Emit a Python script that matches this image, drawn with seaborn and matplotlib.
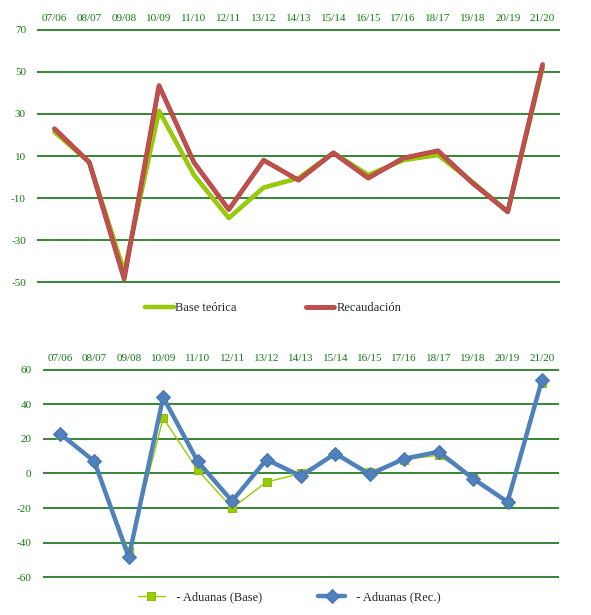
import numpy as np
import pandas as pd
import matplotlib
matplotlib.use("Agg")
import matplotlib.pyplot as plt
import matplotlib.patheffects as pe
import seaborn as sns

sns.set_style("white")
plt.rcParams['font.family'] = ['Liberation Serif', 'DejaVu Serif']
plt.rcParams['axes.unicode_minus'] = False

# periodos (año/año anterior)
periodos = ["07/06", "08/07", "09/08", "10/09", "11/10", "12/11", "13/12", "14/13",
            "15/14", "16/15", "17/16", "18/17", "19/18", "20/19", "21/20"]

# variaciones (%) - grafico superior
base_teorica = [21.5, 7, -45, 31.5, 1, -19.5, -5, -0.5, 11.5, 1, 8, 10.5, -2.5, -16.5, 52]
recaudacion = [23, 7, -48.5, 43.5, 7, -15.5, 8, -1.5, 11.5, -0.5, 9, 12.5, -3, -16.5, 53.5]

# variaciones (%) - grafico inferior, aduanas
aduanas_base = [22, 7, -45, 32, 2, -20, -5, 0, 11.5, 1, 8, 10.5, -2.5, -16.5, 52]
aduanas_rec = [23, 7, -48.5, 44, 7, -16, 8, -1.5, 11.5, -0.5, 8.5, 12.5, -3, -16.5, 54]

verde_txt = '#137a13'
verde_grid = '#006400'

df_top = pd.DataFrame({
    'x': list(range(len(periodos))) * 2,
    'valor': base_teorica + recaudacion,
    'serie': ['Base teórica'] * len(periodos) + ['Recaudación'] * len(periodos),
})
df_bot = pd.DataFrame({
    'x': list(range(len(periodos))) * 2,
    'valor': aduanas_base + aduanas_rec,
    'serie': ['   - Aduanas (Base)'] * len(periodos) + ['   - Aduanas (Rec.)'] * len(periodos),
})

fig = plt.figure(figsize=(5.91, 6.15), dpi=100)
ax1 = fig.add_axes([0.0626, 0.5398, 0.885, 0.413])
ax2 = fig.add_axes([0.0722, 0.0602, 0.874, 0.34])

# --- grafico superior
sns.lineplot(data=df_top, x='x', y='valor', hue='serie',
             palette={'Base teórica': '#99cc00', 'Recaudación': '#c0504d'},
             linewidth=2.6, ax=ax1, legend=False)
ax1.lines[0].set_path_effects([pe.Stroke(linewidth=3.2, foreground='#8db82a'), pe.Normal()])
ax1.lines[1].set_path_effects([pe.Stroke(linewidth=3.4, foreground='#a9403d'), pe.Normal()])
ax1.set_ylim(-50.4, 70.4)
ax1.set_yticks(np.arange(-50, 71, 20))

# --- grafico inferior
sns.lineplot(data=df_bot, x='x', y='valor', hue='serie', style='serie',
             palette={'   - Aduanas (Base)': '#99cc00', '   - Aduanas (Rec.)': '#4f81bd'},
             markers={'   - Aduanas (Base)': 's', '   - Aduanas (Rec.)': 'D'},
             dashes=False, ax=ax2, legend=False)
ax2.lines[0].set_linewidth(1.0)
ax2.lines[0].set_markersize(5.5)
ax2.lines[0].set_markeredgecolor('#8fbf00')
ax2.lines[1].set_linewidth(3.2)
ax2.lines[1].set_markersize(7)
ax2.lines[1].set_markeredgecolor('#4673ab')
ax2.set_ylim(-60.4, 60.4)
ax2.set_yticks(np.arange(-60, 61, 20))

for ax in (ax1, ax2):
    ax.set_xlim(-0.5, len(periodos) - 0.5)
    ax.set_xticks(range(len(periodos)))
    ax.set_xticklabels(periodos)
    ax.xaxis.tick_top()
    ax.tick_params(axis='both', length=0, labelsize=8, labelcolor=verde_txt)
    ax.tick_params(axis='x', pad=4.5)
    ax.tick_params(axis='y', pad=8)
    ax.set_xlabel('')
    ax.set_ylabel('')
    for s in ax.spines.values():
        s.set_visible(False)
    ax.yaxis.grid(True, color=verde_grid, linewidth=1.1)
    ax.xaxis.grid(False)
    ax.set_axisbelow(True)

h1 = ax1.get_lines()[:2]
fig.legend(h1, ['Base teórica', 'Recaudación'], loc='center', bbox_to_anchor=(0.462, 0.499),
           ncol=2, frameon=False, fontsize=9, handlelength=2.3, handletextpad=0.15,
           columnspacing=5.5)
h2 = ax2.get_lines()[:2]
fig.legend(h2, ['   - Aduanas (Base)', '   - Aduanas (Rec.)'], loc='center',
           bbox_to_anchor=(0.49, 0.029), ncol=2, frameon=False, fontsize=9,
           handlelength=2.1, handletextpad=0.2, columnspacing=4.5)

fig.savefig('out.png', dpi=100)
